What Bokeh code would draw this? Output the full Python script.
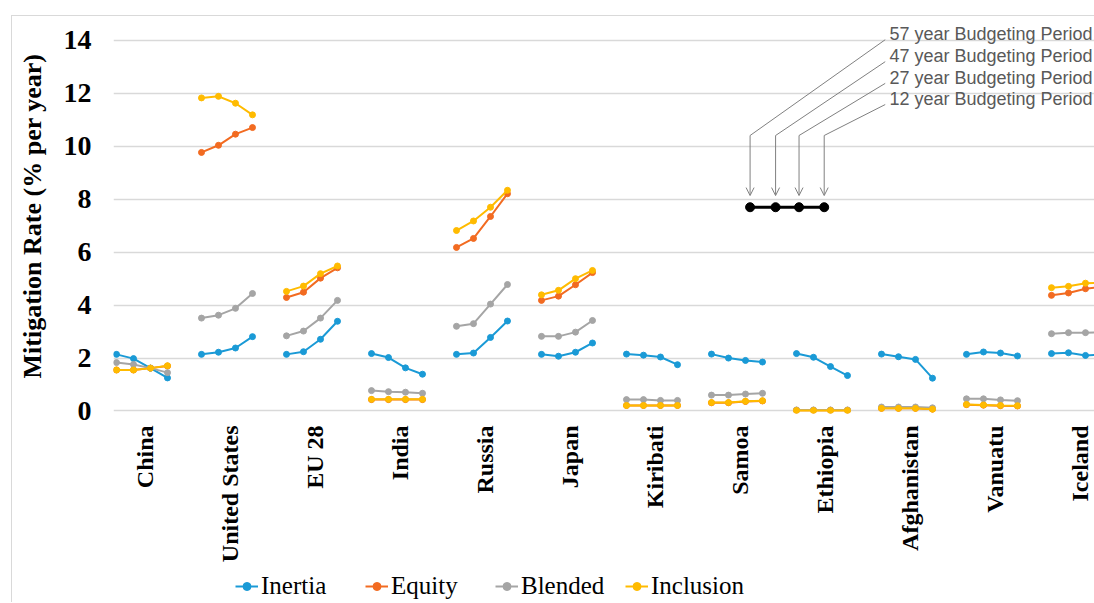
import math
from bokeh.plotting import figure
from bokeh.layouts import column
from bokeh.models import FixedTicker, Legend, LegendItem, Arrow, OpenHead, Range1d
from bokeh.core.properties import value
from bokeh.embed import file_html
from bokeh.resources import INLINE

countries = ["China", "United States", "EU 28", "India", "Russia", "Japan",
             "Kiribati", "Samoa", "Ethiopia", "Afghanistan", "Vanuatu", "Iceland"]

# four budgeting periods per country (57, 47, 27, 12 year)
inertia = [
    [2.14, 1.98, 1.62, 1.25], [2.14, 2.22, 2.38, 2.81], [2.14, 2.24, 2.71, 3.39],
    [2.17, 2.02, 1.63, 1.39], [2.14, 2.19, 2.78, 3.40], [2.14, 2.07, 2.22, 2.57],
    [2.15, 2.11, 2.04, 1.75], [2.15, 2.00, 1.91, 1.85], [2.17, 2.03, 1.68, 1.34],
    [2.15, 2.05, 1.95, 1.24], [2.14, 2.23, 2.19, 2.08], [2.17, 2.20, 2.10, 2.14],
]
equity = [
    [1.55, 1.55, 1.62, 1.70], [9.77, 10.04, 10.46, 10.71], [4.29, 4.49, 5.02, 5.41],
    [0.43, 0.43, 0.43, 0.43], [6.18, 6.52, 7.35, 8.21], [4.18, 4.34, 4.77, 5.23],
    [0.21, 0.21, 0.21, 0.21], [0.31, 0.31, 0.36, 0.38], [0.03, 0.03, 0.03, 0.03],
    [0.10, 0.10, 0.10, 0.07], [0.24, 0.22, 0.20, 0.19], [4.37, 4.46, 4.62, 4.70],
]
blended = [
    [1.83, 1.76, 1.62, 1.45], [3.51, 3.62, 3.88, 4.44], [2.84, 3.02, 3.51, 4.18],
    [0.77, 0.73, 0.71, 0.67], [3.20, 3.30, 4.04, 4.78], [2.82, 2.82, 2.98, 3.42],
    [0.43, 0.43, 0.40, 0.40], [0.60, 0.60, 0.64, 0.67], [0.04, 0.04, 0.04, 0.04],
    [0.15, 0.15, 0.15, 0.12], [0.46, 0.46, 0.42, 0.39], [2.92, 2.96, 2.96, 2.97],
]
inclusion = [
    [1.55, 1.55, 1.62, 1.71], [11.83, 11.89, 11.63, 11.19], [4.52, 4.72, 5.19, 5.48],
    [0.44, 0.44, 0.44, 0.44], [6.82, 7.18, 7.70, 8.34], [4.39, 4.56, 5.00, 5.31],
    [0.21, 0.21, 0.21, 0.21], [0.32, 0.32, 0.37, 0.39], [0.02, 0.02, 0.02, 0.02],
    [0.10, 0.10, 0.10, 0.07], [0.25, 0.23, 0.21, 0.20], [4.66, 4.71, 4.83, 4.85],
]
y_ticks = [0, 2, 4, 6, 8, 10, 12, 14]

# budgeting-period key (annotation drawn in data units)
period_labels = ["57 year Budgeting Period", "47 year Budgeting Period",
                 "27 year Budgeting Period", "12 year Budgeting Period"]
period_label_y = [14.25, 13.42, 12.60, 11.80]
period_label_x = 45.47
key_x = [37.27, 38.77, 40.15, 41.63]
key_y = 7.70
key_corner_y = 10.41
key_arrow_end_y = 8.14

SLOTS = 5  # 4 periods + 1 gap per country
LABEL_OFFSET = 1.7  # category label position inside each group

series = [("Inertia", inertia, "#1a9ad6"), ("Equity", equity, "#f26b21"),
          ("Blended", blended, "#a5a5a5"), ("Inclusion", inclusion, "#ffbb00")]

p = figure(width=1082, height=555, output_backend="svg", toolbar_location=None,
           x_range=Range1d(-0.1765, 57.53), y_range=Range1d(-0.0945, 14.831),
           min_border_left=101, min_border_right=0, min_border_top=2,
           min_border_bottom=158)
p.outline_line_color = None
p.xgrid.visible = False
p.ygrid.grid_line_color = "#d9d9d9"
p.ygrid.grid_line_width = 1.5

for name, data, color in series:
    xs, ys, px, py = [], [], [], []
    for i, vals in enumerate(data):
        for j, v in enumerate(vals):
            xs.append(i * SLOTS + j)
            ys.append(v)
            px.append(i * SLOTS + j)
            py.append(v)
        xs.append(float("nan"))
        ys.append(float("nan"))
    p.line(xs, ys, line_color=color, line_width=2)
    p.scatter(px, py, size=6, fill_color=color, line_color=color)

# key: black line with 4 dots, and arrows from the labels
p.line(key_x, [key_y] * len(key_x), line_color="black", line_width=3)
p.scatter(key_x, [key_y] * len(key_x), size=9, fill_color="black", line_color="black")
p.segment(x0=[period_label_x - 0.25] * 4, y0=[y - 0.22 for y in period_label_y],
          x1=key_x, y1=[key_corner_y] * 4, line_color="#808080", line_width=1)
for kx in key_x:
    p.add_layout(Arrow(x_start=kx, y_start=key_corner_y, x_end=kx, y_end=key_arrow_end_y,
                       line_color="#808080", line_width=1,
                       end=OpenHead(size=8, line_color="#808080", line_width=1)))
p.text(x=[period_label_x] * 4, y=period_label_y, text=period_labels,
       text_font=value("Liberation Sans"), text_font_size="18px",
       text_color="#595959", text_baseline="middle", text_align="left")

# axes
tick_pos = [i * SLOTS + LABEL_OFFSET for i in range(len(countries))]
p.xaxis.ticker = FixedTicker(ticks=tick_pos)
p.xaxis.major_label_overrides = {t: c for t, c in zip(tick_pos, countries)}
p.xaxis.major_label_orientation = math.pi / 2
p.xaxis.major_label_text_font = "Liberation Serif"
p.xaxis.major_label_text_font_style = "bold"
p.xaxis.major_label_text_font_size = "24px"
p.xaxis.major_label_text_color = "black"
p.xaxis.major_label_standoff = 12
p.xaxis.major_tick_out = 0
p.xaxis.major_tick_in = 0
p.xaxis.minor_tick_out = 0
p.xaxis.minor_tick_in = 0
p.xaxis.axis_line_color = None
p.xaxis.major_tick_line_color = None
p.xaxis.minor_tick_line_color = None

p.yaxis.ticker = FixedTicker(ticks=y_ticks)
p.yaxis.major_label_text_font = "Liberation Serif"
p.yaxis.major_label_text_font_style = "bold"
p.yaxis.major_label_text_font_size = "28px"
p.yaxis.major_label_text_color = "black"
p.yaxis.major_label_standoff = 16
p.yaxis.axis_line_color = None
p.yaxis.major_tick_line_color = None
p.yaxis.minor_tick_line_color = None
p.yaxis.axis_label = "Mitigation Rate (% per year)"
p.yaxis.axis_label_text_font = "Liberation Serif"
p.yaxis.axis_label_text_font_style = "bold"
p.yaxis.axis_label_text_font_size = "26px"
p.yaxis.axis_label_text_color = "black"
p.yaxis.axis_label_standoff = 14

# legend strip below the chart (its frame is aligned with the chart's frame)
lf = figure(width=1082, height=31, output_backend="svg", toolbar_location=None,
            x_range=Range1d(0, 1), y_range=Range1d(0, 1),
            x_axis_type=None, y_axis_type=None,
            min_border_left=0, min_border_right=0, min_border_top=0, min_border_bottom=0)
lf.outline_line_color = None
lf.grid.visible = False
items = []
for name, _, color in series:
    # legend swatches only: points lie outside the strip's visible range
    lr = lf.line([-2, -1], [-2, -2], line_color=color, line_width=2)
    sr = lf.scatter([-2], [-2], size=6, fill_color=color, line_color=color)
    items.append(LegendItem(label=name, renderers=[lr, sr]))
legend = Legend(items=items, location=(122, 2), orientation="horizontal",
                border_line_color=None, background_fill_alpha=0,
                padding=0, margin=0, spacing=0, glyph_width=23, glyph_height=20,
                label_standoff=3, label_height=28, label_width=104,
                label_text_font="Liberation Serif", label_text_font_size="25px",
                label_text_color="black")
lf.add_layout(legend)

layout = column(p, lf, spacing=0)
layout.styles = {"border-left": "1px solid #d9d9d9", "border-top": "1px solid #d9d9d9",
                 "margin-left": "11px", "margin-top": "15px"}

open("out.html", "w").write(file_html(layout, INLINE))
